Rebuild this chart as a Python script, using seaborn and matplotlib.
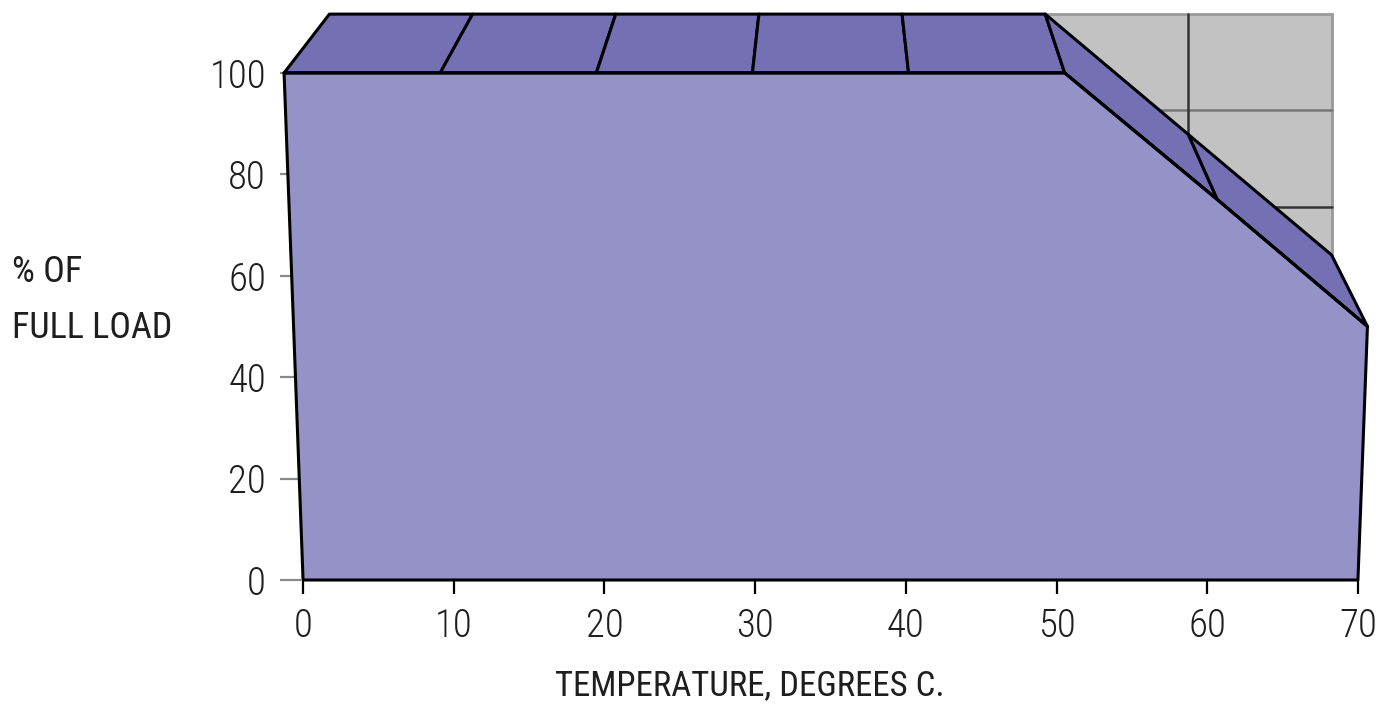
import numpy as np
import seaborn as sns
import matplotlib.pyplot as plt
from matplotlib.patches import Polygon

# derating curve data
temps = [0, 10, 20, 30, 40, 50, 60, 70]
load = [100, 100, 100, 100, 100, 100, 75, 50]
x_ticks = [0, 10, 20, 30, 40, 50, 60, 70]
y_ticks = [0, 20, 40, 60, 80, 100]
wall_x = [50, 60, 70]
wall_y = [60, 80, 100]

# pseudo 3d look
cx = 35.0
persp = 0.00036
back_scale = 0.95
back_lift = 16.6

FRONT = '#9492c6'
TOP = '#7470b3'
WALL = '#c2c2c2'
TXT = '#1e1e1e'

sns.set_theme(style='white')
plt.rcParams['font.family'] = ['Roboto Condensed', 'Sofia Sans Condensed', 'DejaVu Sans']


def front(x, y):
    return cx + (x - cx) * (1 + persp * y), y


def back(x, y):
    return cx + (x - cx) * back_scale, y * back_scale + back_lift


fig = plt.figure(figsize=(13.81, 7.04), dpi=100)
ax = fig.add_axes([280 / 1381, 124 / 704, 1101 / 1381, 573 / 704])
ax.set_xlim(-1.53, 71.53)
ax.set_ylim(0, 113)
ax.set_axisbelow(True)

# back wall (only visible part right of the plateau)
wall = [back(wall_x[0], 0), back(wall_x[-1], 0), back(wall_x[-1], wall_y[-1]), back(wall_x[0], wall_y[-1])]
ax.add_patch(Polygon(wall, closed=True, fc=WALL, ec='#999999', lw=2, zorder=1, clip_on=False))
p0, p1 = back(wall_x[0], wall_y[1]), back(wall_x[-1], wall_y[1])
ax.plot([p0[0], p1[0]], [p0[1], p1[1]], color='#777777', lw=1.8, zorder=1.1)
p0, p1 = back(wall_x[0], wall_y[0]), back(wall_x[-1], wall_y[0])
ax.plot([p0[0], p1[0]], [p0[1], p1[1]], color='#333333', lw=1.8, zorder=1.1)
for wx in wall_x[1:-1]:
    p0, p1 = back(wx, 0), back(wx, wall_y[-1])
    ax.plot([p0[0], p1[0]], [p0[1], p1[1]], color='#333333', lw=1.8, zorder=1.1)

# top facets
for i in range(len(temps) - 1):
    pts = [front(temps[i], load[i]), front(temps[i + 1], load[i + 1]),
           back(temps[i + 1], load[i + 1]), back(temps[i], load[i])]
    ax.add_patch(Polygon(pts, closed=True, fc=TOP, ec='black', lw=2.2,
                         joinstyle='round', zorder=2, clip_on=False))

# front face
fx = [front(t, l)[0] for t, l in zip(temps, load)]
poly = [(temps[0], 0)] + list(zip(fx, load)) + [(temps[-1], 0)]
ax.add_patch(Polygon(poly, closed=True, fc=FRONT, ec='black', lw=2.2,
                     joinstyle='round', zorder=3, clip_on=False))
sns.lineplot(x=fx, y=load, sort=False, color='black', lw=2.2, ax=ax, zorder=4)

for s in ax.spines.values():
    s.set_visible(False)

ax.set_xticks(x_ticks)
ax.set_yticks(y_ticks)
ax.tick_params(axis='x', direction='out', length=10, width=1.6, color='black',
               pad=10, labelsize=28, labelcolor=TXT, bottom=True)
ax.tick_params(axis='y', direction='in', length=15, width=1.6, color='#8a8a8a',
               pad=10, labelsize=28, labelcolor=TXT, left=True)
for lab in ax.get_xticklabels() + ax.get_yticklabels():
    lab.set_fontweight(300)

ax.set_xlabel('TEMPERATURE, DEGREES C.', fontsize=25, color=TXT)
ax.xaxis.set_label_coords((750 - 280) / 1101, (704 - 669 - 124) / 573)
ax.xaxis.label.set_va('top')

ax.set_ylabel('% OF\nFULL LOAD', fontsize=26, color=TXT, rotation=0,
              ha='left', va='center', multialignment='left', linespacing=1.7)
ax.yaxis.set_label_coords((12 - 280) / 1101, (704 - 300 - 124) / 573)

fig.savefig('out.png', dpi=100)
